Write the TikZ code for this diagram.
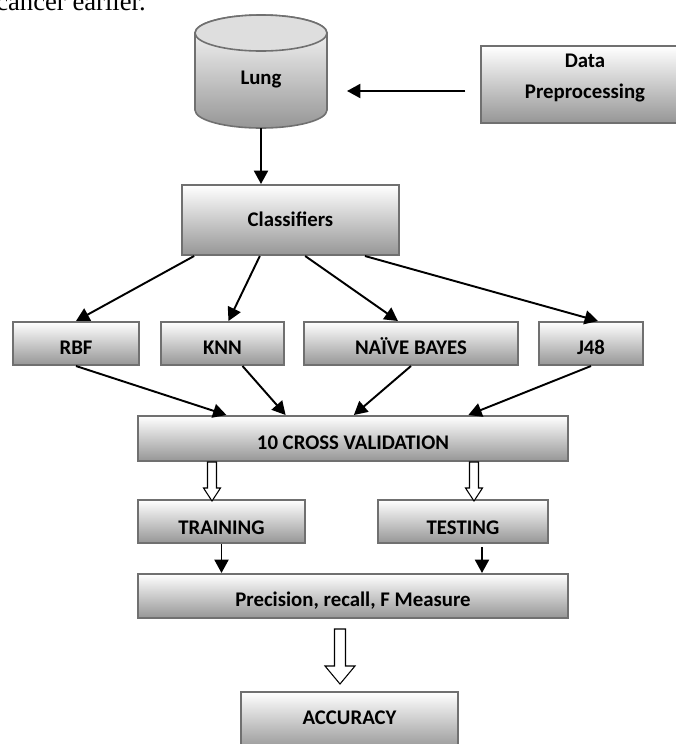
\documentclass[tikz,border=0pt]{standalone}
\usepackage{fontspec}
\usepackage{tikz}
\usetikzlibrary{arrows.meta,calc}

\newfontfamily\carlito{Carlito}
\newfontfamily\serifbody{Liberation Serif}
\newcommand{\boxfont}{\carlito\bfseries\fontsize{15.6}{23.3}\selectfont}
\definecolor{boxedge}{RGB}{112,112,112}
\definecolor{boxlow}{RGB}{150,150,150}

% hollow block arrow: start, half shaft, half head, shaft length, head length
\newcommand{\hollowarrow}[5]{%
  \draw[hollow] (#1) ++(-#2,0) -- ++(0,#4) -- ++(#2-#3,0) -- ++(#3,#5) -- ++(#3,-#5) -- ++(#2-#3,0) -- ++(0,-#4) -- cycle ;}

\tikzset{
  gbox/.style={draw=boxedge, line width=1.5pt, top color=white, bottom color=boxlow, font=\boxfont, inner xsep=2pt, inner ysep=1pt, text height=21pt, text depth=4pt},
  conn/.style={line width=1.45pt, -{Triangle[length=10pt,width=10.5pt]}},
  hollow/.style={draw=black, line width=0.8pt, fill=white}
}

\begin{document}
\begin{tikzpicture}[x=0.75pt,y=0.75pt,yscale=-1,xscale=1]
\useasboundingbox (0,0) rectangle (676,744);

% Text Node
\node[anchor=base west, inner sep=0pt, font=\serifbody\fontsize{20}{24}\selectfont] (bodytext) at (-4,10.5) {cancer earlier.};

%Shape: Can
\draw[draw=boxedge, line width=1.2pt, top color=white, bottom color=boxlow] (195,33) -- (195,110) arc[start angle=180, end angle=0, x radius=66, y radius=18] -- (327,33) arc[start angle=0, end angle=-180, x radius=66, y radius=18] -- cycle ;
\draw[draw=boxedge, line width=1.2pt, fill=black!13] (261,33) ellipse [x radius=66, y radius=18] ;
\node[font=\boxfont, inner sep=1pt] (lung) at (261,80) {Lung};
\coordinate (lungbot) at (261,128);
\coordinate (lungside) at (347,91);

%Shape: Rectangle
\node[gbox, align=center, minimum width=156pt, minimum height=57.75pt, text height=25.5pt, text depth=4pt] (data) at (585,84.5) {Data\\Preprocessing};
\node[gbox, minimum width=162.75pt, minimum height=52.5pt, text height=14pt] (classifiers) at (290.5,220) {Classifiers};
\node[gbox, minimum width=94.5pt, minimum height=32.25pt] (rbf) at (76,343.5) {RBF};
\node[gbox, minimum width=92.25pt, minimum height=32.25pt] (knn) at (222.5,343.5) {KNN};
\node[gbox, minimum width=160.5pt, minimum height=32.25pt] (bayes) at (411,343.5) {NAÏVE BAYES};
\node[gbox, minimum width=78pt, minimum height=32.25pt] (jfe) at (591,343.5) {J48};
\node[gbox, minimum width=322.5pt, minimum height=33.75pt] (cv) at (353,438.5) {10 CROSS VALIDATION};
\node[gbox, minimum width=125.25pt, minimum height=32.25pt, text height=23pt] (training) at (221.5,521.5) {TRAINING};
\node[gbox, minimum width=127.5pt, minimum height=32.25pt, text height=23pt] (testing) at (463,521.5) {TESTING};
\node[gbox, minimum width=322.5pt, minimum height=33pt, text height=20pt] (prf) at (353,596) {Precision, recall, F Measure};
\node[gbox, minimum width=162.75pt, minimum height=43.5pt, text height=9.5pt] (accuracy) at (349.5,721) {ACCURACY};

%Straight Lines
\draw[conn, shorten <=11pt] (data.west |- lungside) -- (lungside) ;
\draw[conn] (lungbot) -- (lungbot |- classifiers.north) ;
\draw[conn] ($(classifiers.south west)!0.06!(classifiers.south east)$) -- (rbf.north) ;
\draw[conn] ($(classifiers.south west)!0.36!(classifiers.south east)$) -- ($(knn.north)+(6,0)$) ;
\draw[conn] ($(classifiers.south west)!0.567!(classifiers.south east)$) -- ($(bayes.north)+(-13,0)$) ;
\draw[conn] ($(classifiers.south west)!0.84!(classifiers.south east)$) -- ($(jfe.north)+(7,0)$) ;
\draw[conn] (rbf.south) -- ($(cv.north west)!0.207!(cv.north east)$) ;
\draw[conn] ($(knn.south)+(20,0)$) -- ($(cv.north west)!0.344!(cv.north east)$) ;
\draw[conn] (bayes.south) -- ($(cv.north west)!0.502!(cv.north east)$) ;
\draw[conn] (jfe.south) -- ($(cv.north west)!0.767!(cv.north east)$) ;
\coordinate (testout) at ($(testing.south)+(19,3)$);
\draw[conn] (training.south) -- (training.south |- prf.north) ;
\draw[conn] (testout) -- (testout |- prf.north) ;

%Shape: Down Arrow
\coordinate (cvtrain) at ($(cv.south -| training.north)+(-9.5,0)$);
\coordinate (cvtest) at ($(cv.south -| testing.north)+(11,0)$);
\coordinate (prfacc) at ($(prf.south)+(-13,10)$);
\hollowarrow{cvtrain}{4.5}{8.5}{26}{13}
\hollowarrow{cvtest}{4.5}{8.5}{26}{13}
\hollowarrow{prfacc}{5.5}{15}{37}{18}

\end{tikzpicture}
\end{document}
